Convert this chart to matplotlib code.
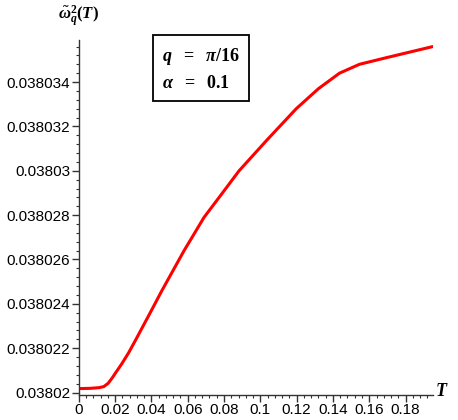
import matplotlib
matplotlib.use("Agg")
import matplotlib.pyplot as plt
from matplotlib.ticker import MultipleLocator, FuncFormatter
import numpy as np

T = [0.0, 0.006, 0.011, 0.0138, 0.0162, 0.0184, 0.0207, 0.0237, 0.0275, 0.0315,
     0.0387, 0.0458, 0.058, 0.069, 0.0773,
     0.0883, 0.1038, 0.1198, 0.132, 0.1436, 0.1546, 0.1695, 0.195]
omega2 = [0.03802018, 0.03802019, 0.03802022, 0.03802027, 0.03802042, 0.03802066,
          0.03802094, 0.0380213, 0.0380218, 0.0380224, 0.0380235,
          0.0380246, 0.0380264, 0.0380279, 0.0380288, 0.0380300, 0.0380314,
          0.0380328, 0.0380337, 0.0380344, 0.0380348, 0.0380351, 0.0380356]
x_ticks = [0, 0.02, 0.04, 0.06, 0.08, 0.1, 0.12, 0.14, 0.16, 0.18]
y_ticks = [0.03802, 0.038022, 0.038024, 0.038026, 0.038028, 0.03803, 0.038032, 0.038034]

plt.rcParams['mathtext.fontset'] = 'custom'
plt.rcParams['mathtext.it'] = 'Liberation Serif:italic:bold'
plt.rcParams['mathtext.rm'] = 'Liberation Serif:bold'
plt.rcParams['mathtext.bf'] = 'Liberation Serif:bold'

fig = plt.figure(figsize=(4.58, 4.20), dpi=100)
ax = fig.add_axes([0.172, 0.060, 0.773, 0.845])

ax.plot(T, omega2, color='#ff0000', lw=2.2, solid_capstyle='round',
        solid_joinstyle='round')

ax.set_xlim(0, 0.195)
ax.set_ylim(0.0380199, 0.0380359)

for s in ['top', 'right']:
    ax.spines[s].set_visible(False)
for s in ['left', 'bottom']:
    ax.spines[s].set_linewidth(1.0)
    ax.spines[s].set_color('#333333')

ax.set_xticks(x_ticks)
ax.set_yticks(y_ticks)
ax.xaxis.set_minor_locator(MultipleLocator(0.004))
ax.yaxis.set_minor_locator(MultipleLocator(0.0000004))

def fmt(v, pos):
    s = ('%.6f' % v).rstrip('0').rstrip('.')
    return s

ax.xaxis.set_major_formatter(FuncFormatter(fmt))
ax.yaxis.set_major_formatter(FuncFormatter(fmt))

ax.tick_params(axis='both', which='major', length=5, width=1.0, color='#333333',
               labelsize=11, direction='out', pad=1)
ax.tick_params(axis='both', which='minor', length=2.5, width=0.8, color='#333333',
               direction='out')
for lab in ax.get_xticklabels() + ax.get_yticklabels():
    lab.set_fontfamily('Liberation Sans')

fig.text(0.172, 0.962, r'$\tilde{\omega}_q^2(T)$', ha='center', va='center', fontsize=12)
fig.text(0.965, 0.070, r'$T$', ha='center', va='center', fontsize=13)

ax.text(0.235, 0.917, r'$q\ \ =\ \ \pi/16$' + '\n' + r'$\alpha\ \ =\ \ 0.1$',
        transform=ax.transAxes, ha='left', va='center', fontsize=13,
        linespacing=1.5,
        bbox=dict(boxstyle='square,pad=0.5', fc='white', ec='black', lw=1.3))

fig.savefig('out.png', dpi=100)
